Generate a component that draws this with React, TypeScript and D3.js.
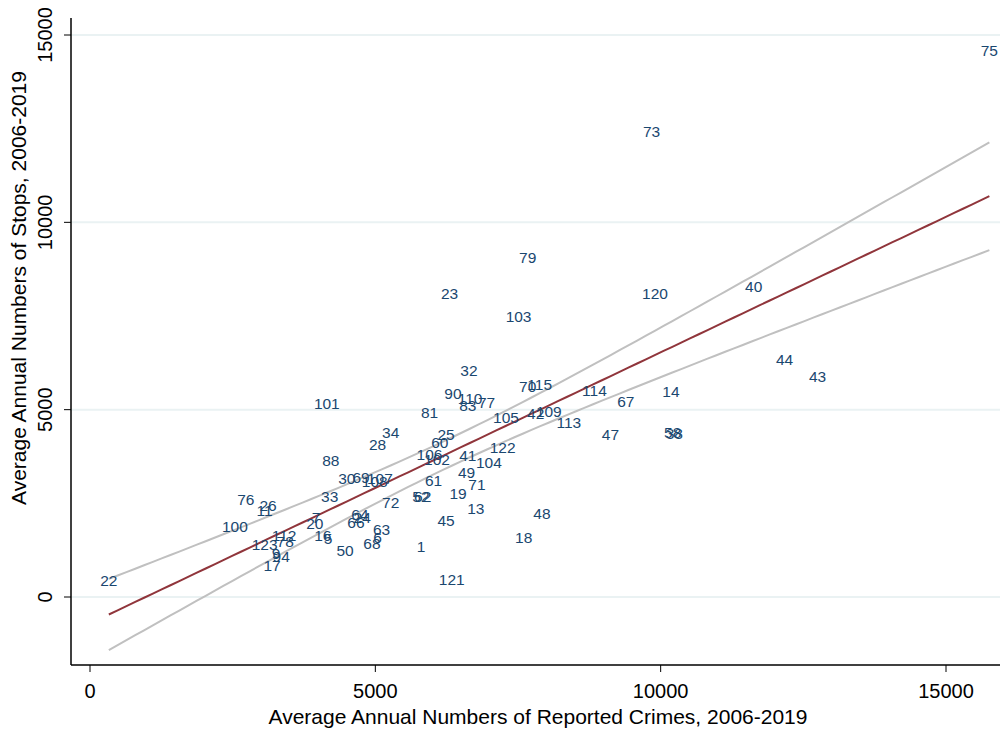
import React from "react";
import * as d3 from "d3";

const precincts = ["75","73","79","23","120","40","103","44","43","32","70","115","114","14","67","101","90","110","83","77","81","105","42","109","113","47","58","38","34","28","25","60","106","102","41","122","104","88","49","30","69","107","108","61","71","19","33","62","52","72","13","48","76","26","11","100","7","20","64","24","66","45","63","6","68","1","18","16","5","50","112","123","78","9","94","17","121","22"];
const crimes = [15760,9840,7670,6300,9900,11630,7510,12170,12750,6640,7670,7880,8840,10180,9390,4150,6360,6660,6620,6950,5950,7290,7810,8040,8390,9120,10210,10240,5270,5040,6240,6130,5950,6080,6620,7230,6990,4220,6600,4500,4750,5080,4990,6020,6780,6450,4200,5830,5800,5270,6760,7920,2730,3120,3060,2540,3960,3940,4730,4770,4660,6240,5110,5040,4940,5800,7600,4080,4170,4470,3400,3060,3420,3260,3350,3190,6340,330];
const stops = [14590,12430,9070,8110,8110,8290,7490,6350,5890,6050,5630,5680,5520,5490,5230,5170,5440,5310,5120,5200,4930,4800,4910,4960,4670,4350,4400,4370,4400,4080,4350,4130,3810,3680,3790,4000,3600,3630,3310,3170,3200,3150,3070,3120,2990,2770,2670,2690,2690,2530,2350,2240,2590,2450,2320,1870,2130,1950,2210,2130,2000,2050,1790,1600,1440,1360,1600,1650,1570,1250,1630,1410,1470,1150,1090,850,480,430];
const xTicks = [0, 5000, 10000, 15000];
const yTicks = [0, 5000, 10000, 15000];

const FONT = "'Liberation Sans', Arial, Helvetica, sans-serif";

export default function App() {
  const W = 1000, H = 730;
  const x = d3.scaleLinear().domain([0, 15000]).range([90, 946]);
  const y = d3.scaleLinear().domain([0, 15000]).range([597, 35]);
  const axisLeft = 71, axisBottom = 665, plotTop = 18, plotRight = 1000;

  // OLS fit with 95% CI of the mean prediction
  const n = crimes.length;
  const xbar = d3.mean(crimes)!;
  const ybar = d3.mean(stops)!;
  let sxx = 0, sxy = 0;
  crimes.forEach((c, i) => { sxx += (c - xbar) ** 2; sxy += (c - xbar) * (stops[i] - ybar); });
  const b = sxy / sxx;
  const a = ybar - b * xbar;
  let sse = 0;
  crimes.forEach((c, i) => { sse += (stops[i] - a - b * c) ** 2; });
  const s = Math.sqrt(sse / (n - 2));
  const t = 1.992;
  const [xmin, xmax] = d3.extent(crimes) as [number, number];
  const grid = d3.range(0, 101).map(k => xmin + (xmax - xmin) * k / 100);
  const fitLine = d3.line<number>().x(v => x(v)).y(v => y(a + b * v));
  const se = (v: number) => s * Math.sqrt(1 / n + (v - xbar) ** 2 / sxx);
  const upLine = d3.line<number>().x(v => x(v)).y(v => y(a + b * v + t * se(v)));
  const loLine = d3.line<number>().x(v => x(v)).y(v => y(a + b * v - t * se(v)));

  return (
    <svg width={W} height={H} style={{ position: "absolute", left: 0, top: 0, background: "#fff" }} fontFamily={FONT}>
      {yTicks.map(v => (
        <line key={"g" + v} x1={axisLeft} x2={plotRight} y1={y(v)} y2={y(v)} stroke="#eaf2f3" strokeWidth={2} />
      ))}
      <path d={upLine(grid)!} fill="none" stroke="#c0c0c0" strokeWidth={2} />
      <path d={loLine(grid)!} fill="none" stroke="#c0c0c0" strokeWidth={2} />
      <path d={fitLine(grid)!} fill="none" stroke="#90353b" strokeWidth={2} />
      {precincts.map((p, i) => (
        <text key={"p" + i} x={x(crimes[i])} y={y(stops[i])} textAnchor="middle" dominantBaseline="central" fontSize={15.5} fill="#1a476f">{p}</text>
      ))}
      {/* axes */}
      <line x1={axisLeft} x2={axisLeft} y1={plotTop} y2={axisBottom} stroke="#000" strokeWidth={1.5} />
      <line x1={axisLeft} x2={plotRight} y1={axisBottom} y2={axisBottom} stroke="#000" strokeWidth={1.5} />
      {yTicks.map(v => (
        <g key={"yt" + v}>
          <line x1={axisLeft - 7} x2={axisLeft} y1={y(v)} y2={y(v)} stroke="#000" strokeWidth={1} />
          <text transform={`translate(${axisLeft - 26},${y(v)}) rotate(-90)`} textAnchor="middle" dominantBaseline="central" fontSize={20} fill="#000">{v}</text>
        </g>
      ))}
      {xTicks.map(v => (
        <g key={"xt" + v}>
          <line x1={x(v)} x2={x(v)} y1={axisBottom} y2={axisBottom + 7} stroke="#000" strokeWidth={1} />
          <text x={x(v)} y={axisBottom + 26} textAnchor="middle" dominantBaseline="central" fontSize={20} fill="#000">{v}</text>
        </g>
      ))}
      <text x={538} y={716} textAnchor="middle" dominantBaseline="central" fontSize={21} fill="#000">Average Annual Numbers of Reported Crimes, 2006-2019</text>
      <text transform={`translate(18,${288}) rotate(-90)`} textAnchor="middle" dominantBaseline="central" fontSize={21} fill="#000">Average Annual Numbers of Stops, 2006-2019</text>
    </svg>
  );
}
